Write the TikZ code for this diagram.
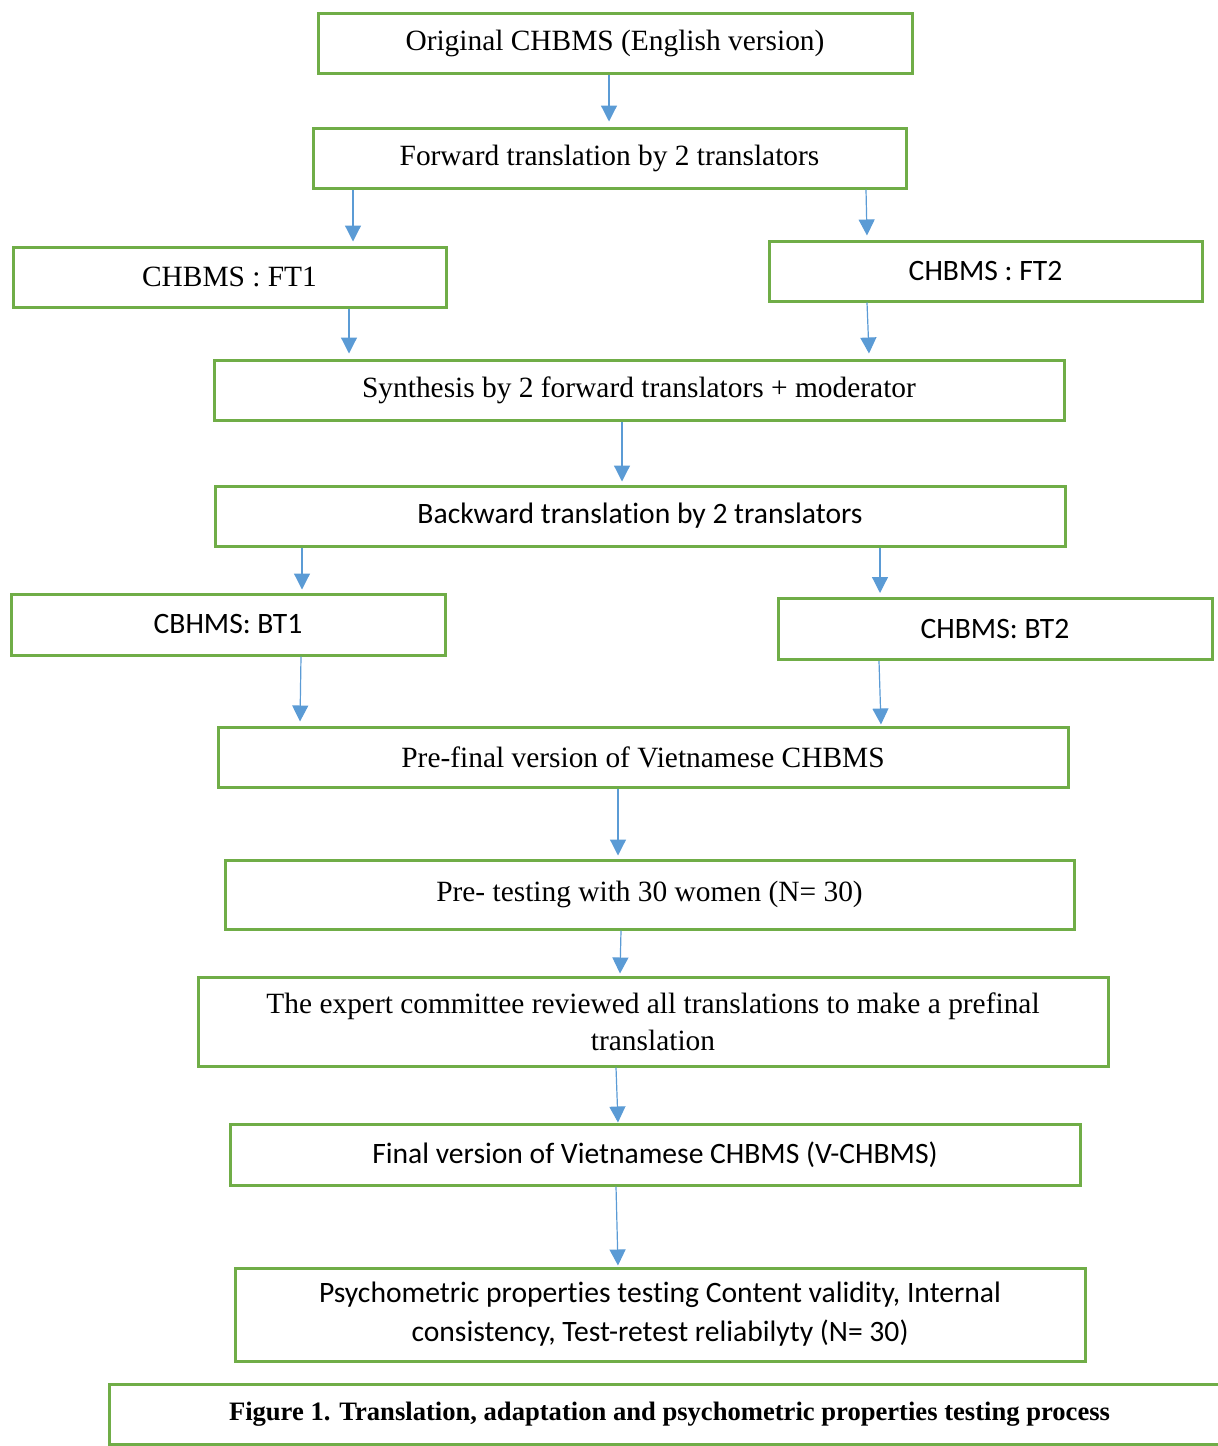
\documentclass[tikz,border=0pt]{standalone}
\usepackage{fontspec}
\setmainfont{Liberation Serif}
\newfontfamily\calibri[RawFeature=-liga]{Carlito}
\usetikzlibrary{arrows.meta}
\definecolor{boxgreen}{HTML}{70AD47}
\definecolor{arrowblue}{HTML}{5B9BD5}

\begin{document}
\begin{tikzpicture}[x=0.5pt, y=-0.5pt,
box/.style={draw=boxgreen, line width=1.5pt, align=center, inner sep=0pt, minimum height=30pt, font=\fontsize{14.7}{18.5}\selectfont},
sbox/.style={box, font=\calibri\fontsize{14.8}{19.5}\selectfont},
arrow/.style={-{Triangle[length=8pt, width=8pt]}, draw=arrowblue, line width=0.6pt}]
\useasboundingbox (0,0) rectangle (1218,1446);
\node[box, minimum width=297pt] (orig) at (615,43) {Original CHBMS (English version)};
\node[box, minimum width=296.5pt] (fwd) at (609.5,158) {Forward translation by 2 translators};
\node[box, minimum width=216.5pt] (ft1) at (229.5,277) {CHBMS : FT1};
\node[sbox, minimum width=216.5pt] (ft2) at (985.5,271) {CHBMS : FT2};
\node[box, minimum width=425pt] (synth) at (639,390) {Synthesis by 2 forward translators + moderator};
\node[sbox, minimum width=425pt] (back) at (640,516) {Backward translation by 2 translators};
\node[sbox, minimum width=217pt, minimum height=30.5pt] (bt1) at (228,624.5) {CBHMS: BT1};
\node[sbox, minimum width=217pt, minimum height=30.5pt] (bt2) at (995,629) {CHBMS: BT2};
\node[box, minimum width=425pt] (prefin) at (643,757) {Pre-final version of Vietnamese CHBMS};
\node[box, minimum width=424.5pt, minimum height=34.5pt] (pretest) at (649.5,894.5) {Pre- testing with 30 women (N= 30)};
\node[box, minimum width=455pt, minimum height=44.5pt] (expert) at (653,1021.5) {The expert committee reviewed all translations to make a prefinal\\translation};
\node[sbox, minimum width=425pt, minimum height=30.5pt] (final) at (655,1154.5) {Final version of Vietnamese CHBMS (V-CHBMS)};
\node[sbox, minimum width=425pt, minimum height=46.5pt] (psych) at (660,1314.5) {Psychometric properties testing Content validity, Internal\\consistency, Test-retest reliabilyty (N= 30)};
\node[box, minimum width=560.5pt, font=\bfseries\fontsize{13.3}{16}\selectfont] (caption) at (669.5,1414) {Figure 1. Translation, adaptation and psychometric properties testing process};
% arrows
\draw[arrow] ([xshift=-3pt]orig.south) -- ([xshift=-0.25pt, yshift=2.5pt]fwd.north);
\draw[arrow] ([xshift=-128.25pt]fwd.south) -- ([xshift=61.75pt, yshift=2pt]ft1.north);
\draw[arrow] ([xshift=128.25pt]fwd.south) -- ([xshift=-59.25pt, yshift=2pt]ft2.north);
\draw[arrow] ([xshift=59.75pt]ft1.south) -- ([xshift=-145pt, yshift=2.5pt]synth.north);
\draw[arrow] ([xshift=-59.25pt]ft2.south) -- ([xshift=115pt, yshift=2.5pt]synth.north);
\draw[arrow] ([xshift=-8.5pt]synth.south) -- ([xshift=-9pt, yshift=1.5pt]back.north);
\draw[arrow] ([xshift=-169pt]back.south) -- ([xshift=37pt, yshift=1.5pt]bt1.north);
\draw[arrow] ([xshift=120pt]back.south) -- ([xshift=-57.5pt, yshift=2pt]bt2.north);
\draw[arrow] ([xshift=36.5pt]bt1.south) -- ([xshift=-171.5pt, yshift=2pt]prefin.north);
\draw[arrow] ([xshift=-58pt]bt2.south) -- ([xshift=119pt, yshift=0.5pt]prefin.north);
\draw[arrow] ([xshift=-12.5pt]prefin.south) -- ([xshift=-15.75pt, yshift=1.5pt]pretest.north);
\draw[arrow] ([xshift=-14.25pt]pretest.south) -- ([xshift=-16.5pt, yshift=1pt]expert.north);
\draw[arrow] ([xshift=-18.5pt]expert.south) -- ([xshift=-18.5pt]final.north);
\draw[arrow] ([xshift=-19.5pt]final.south) -- ([xshift=-21pt, yshift=0.5pt]psych.north);
\end{tikzpicture}
\end{document}
